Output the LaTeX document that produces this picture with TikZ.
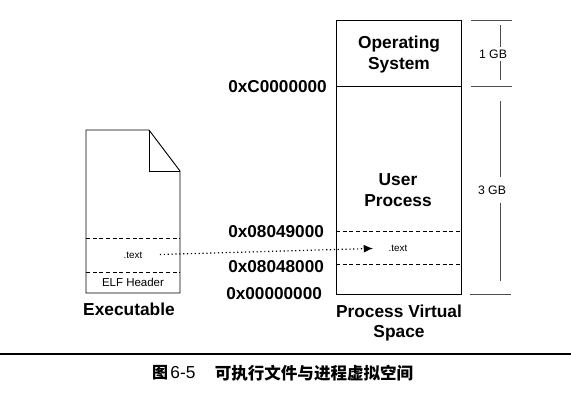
\documentclass[tikz,border=0pt]{standalone}
\usepackage{fontspec}
\usetikzlibrary{arrows.meta}
\setmainfont{Liberation Sans}
\newfontfamily\cjkfont{Noto Sans CJK SC}
\tikzset{
  bigtext/.style={font=\fontsize{13}{15.5}\selectfont\bfseries,align=center,inner sep=0pt},
  addrtext/.style={font=\fontsize{12.9}{15}\selectfont\bfseries,inner sep=0pt,anchor=west},
  smalltext/.style={font=\fontsize{7.4}{9}\selectfont,inner sep=0pt},
  sizetext/.style={font=\fontsize{9.2}{10}\selectfont,inner sep=0pt},
  solidline/.style={line width=0.7pt},
  dashline/.style={line width=0.6pt,dash pattern=on 3pt off 2pt},
  thinline/.style={line width=0.4pt,black!70}
}
\begin{document}
\begin{tikzpicture}[x=0.75pt,y=0.75pt,yscale=-1,xscale=1]
\useasboundingbox (0,0) rectangle (571,401);
% file
\coordinate (fileNW) at (86,130);
\coordinate (foldtop) at (149,130);
\coordinate (foldin) at (149,171);
\coordinate (foldout) at (180,171);
\coordinate (fileSE) at (180,293);
\coordinate (fileSW) at (86,293);
\draw [solidline] (fileNW) -- (foldtop) -- (foldout) -- (fileSE) -- (fileSW) -- cycle ;
\draw [solidline] (foldtop) -- (foldin) -- (foldout) ;
\draw [dashline] (86,238) -- (180,238) ;
\draw [dashline] (86,272) -- (180,272) ;
\node [smalltext] (filetext) at (133,255) {.text};
\node [smalltext,font=\fontsize{8.6}{10}\selectfont] (elfheader) at (133,282) {ELF Header};
\node [bigtext] (executable) at (129,309) {Executable};
% process space
\draw [solidline] (336,20) rectangle (461,294) ;
\draw [solidline] (336,86) -- (461,86) ;
\draw [dashline] (336,231) -- (461,231) ;
\draw [dashline] (336,264) -- (461,264) ;
\node [bigtext] (opsys) at (399,54.5) {Operating\\System};
\node [bigtext] (userproc) at (398,190) {User\\Process};
\node [smalltext] (vmtext) at (398,248) {.text};
\node [bigtext] (procspace) at (399,323) {Process Virtual\\Space};
% addresses
\node [addrtext] (addrc) at (228,87) {0xC0000000};
\node [addrtext] (addrb) at (228,232) {0x08049000};
\node [addrtext] (addra) at (228,267) {0x08048000};
\node [addrtext] (addrz) at (226,294) {0x00000000};
% mapping
\draw [line width=0.9pt,dash pattern=on 0.9pt off 2pt,shorten <=13pt,shorten >=11.5pt,-{Latex[length=7pt,width=6pt]}] (filetext.east) -- (vmtext.west) ;
% sizes
\draw [thinline] (471,20) -- (512,20) ;
\draw [thinline] (471,86) -- (512,86) ;
\draw [thinline] (470,294) -- (511,294) ;
\node [sizetext] (onegb) at (493,54) {1 GB};
\node [sizetext] (threegb) at (492,190) {3 GB};
\coordinate (onetop) at (500,25);
\coordinate (onebot) at (500,80);
\coordinate (threetop) at (500,101);
\coordinate (threebot) at (500,281);
\draw [thinline] (onetop) -- ([yshift=-2pt]onegb.north -| onetop) ;
\draw [thinline] ([yshift=2pt]onegb.south -| onebot) -- (onebot) ;
\draw [thinline] (threetop) -- ([yshift=-6pt]threegb.north -| threetop) ;
\draw [thinline] ([yshift=6pt]threegb.south -| threebot) -- (threebot) ;
% caption
\draw [line width=0.8pt] (0,354) -- (571,354) ;
\node [inner sep=0pt,font=\fontsize{12}{13}\selectfont\bfseries\cjkfont] (capfig) at (160,373) {图};
\node [inner sep=0pt,font=\fontsize{13}{13}\selectfont] (capnum) at (183,373) {6-5};
\node [inner sep=0pt,font=\fontsize{12.4}{13}\selectfont\bfseries\cjkfont] (captitle) at (314,373) {可执行文件与进程虚拟空间};
\end{tikzpicture}
\end{document}
